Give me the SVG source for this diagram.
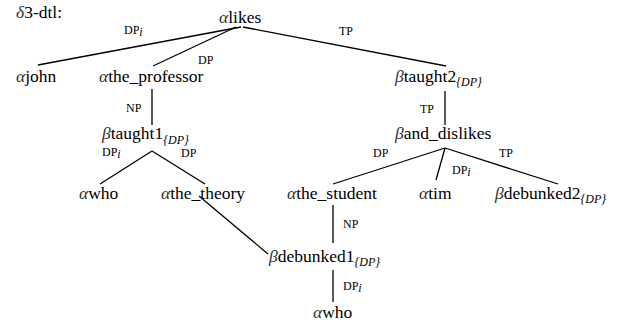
<svg xmlns="http://www.w3.org/2000/svg" width="630" height="327" viewBox="0 0 630 327">
<style>
text{font-family:'Liberation Serif','Times New Roman',serif;fill:#000}
.n{font-size:17.5px}
.l{font-size:12px}
.g{font-style:italic;fill:#333}
.s{font-size:12px;font-style:italic}
.e{stroke:#000;stroke-width:1.3;fill:none}
</style>
<rect width="630" height="327" fill="#fff"/>
<text class="n" x="16" y="18"><tspan class="g">δ</tspan>3-dtl:</text>
<g id="connectors">
<line class="e" x1="241" y1="27" x2="38" y2="65"/>
<line class="e" x1="236" y1="27" x2="153" y2="66"/>
<line class="e" x1="243" y1="27" x2="446" y2="66"/>
<line class="e" x1="152" y1="89" x2="152" y2="125"/>
<line class="e" x1="152" y1="151" x2="100" y2="184"/>
<line class="e" x1="152" y1="151" x2="205" y2="184"/>
<line class="e" x1="199" y1="196" x2="268" y2="254"/>
<line class="e" x1="445" y1="91" x2="445" y2="125"/>
<line class="e" x1="445" y1="148" x2="333" y2="184"/>
<line class="e" x1="445" y1="148" x2="436" y2="180"/>
<line class="e" x1="445" y1="148" x2="558" y2="184"/>
<line class="e" x1="333" y1="205" x2="333" y2="243"/>
<line class="e" x1="333" y1="270" x2="333" y2="302"/>
<text class="l" x="124" y="34">DP<tspan class="s" font-size="9" dy="2">i</tspan></text>
<text class="l" x="198" y="64">DP</text>
<text class="l" x="339" y="35">TP</text>
<text class="l" x="126" y="112">NP</text>
<text class="l" x="102" y="156">DP<tspan class="s" font-size="9" dy="2">i</tspan></text>
<text class="l" x="181" y="157">DP</text>
<text class="l" x="420" y="113">TP</text>
<text class="l" x="373" y="157">DP</text>
<text class="l" x="452" y="174">DP<tspan class="s" font-size="9" dy="2">i</tspan></text>
<text class="l" x="499" y="157">TP</text>
<text class="l" x="343" y="228">NP</text>
<text class="l" x="343" y="290">DP<tspan class="s" font-size="9" dy="2">i</tspan></text>
</g>
<g id="likes"><text class="n" x="219" y="23"><tspan class="g">α</tspan>likes</text></g>
<g id="john"><text class="n" x="16" y="82"><tspan class="g">α</tspan>john</text></g>
<g id="the_professor"><text class="n" x="99" y="82"><tspan class="g">α</tspan>the_professor</text></g>
<g id="taught2"><text class="n" x="395" y="82"><tspan class="g">β</tspan>taught2<tspan class="s" dy="4">{DP}</tspan></text></g>
<g id="taught1"><text class="n" x="102" y="139"><tspan class="g">β</tspan>taught1<tspan class="s" dy="5">{DP}</tspan></text></g>
<g id="and_dislikes"><text class="n" x="395" y="139"><tspan class="g">β</tspan>and_dislikes</text></g>
<g id="who1"><text class="n" x="79" y="199"><tspan class="g">α</tspan>who</text></g>
<g id="the_theory"><text class="n" x="161" y="199"><tspan class="g">α</tspan>the_theory</text></g>
<g id="the_student"><text class="n" x="287" y="199"><tspan class="g">α</tspan>the_student</text></g>
<g id="tim"><text class="n" x="419" y="199"><tspan class="g">α</tspan>tim</text></g>
<g id="debunked2"><text class="n" x="495" y="199"><tspan class="g">β</tspan>debunked2<tspan class="s" dy="4">{DP}</tspan></text></g>
<g id="debunked1"><text class="n" x="269" y="262"><tspan class="g">β</tspan>debunked1<tspan class="s" dy="4">{DP}</tspan></text></g>
<g id="who2"><text class="n" x="313" y="318"><tspan class="g">α</tspan>who</text></g>
</svg>
